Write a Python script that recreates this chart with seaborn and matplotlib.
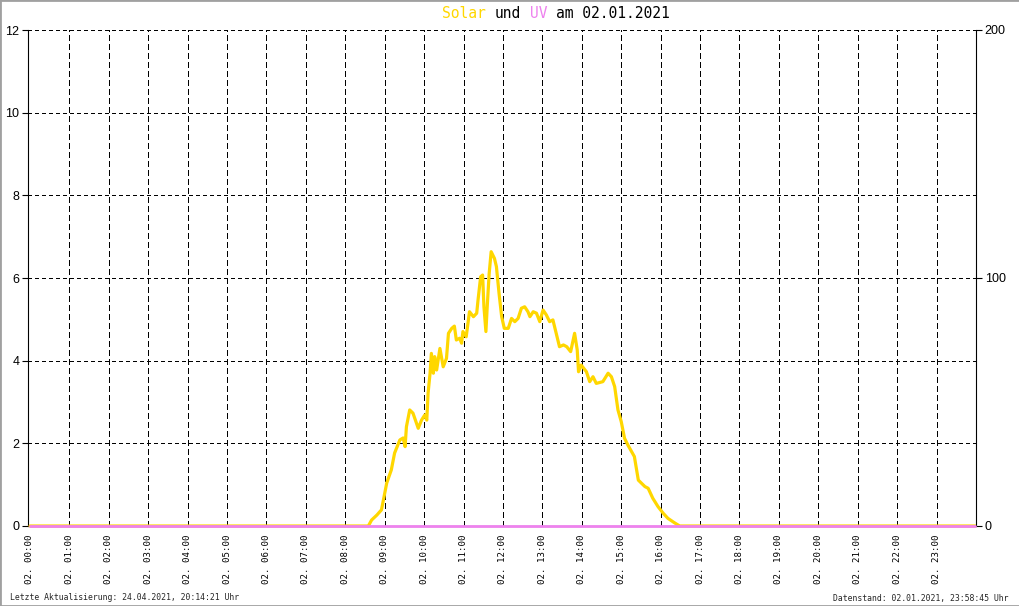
import matplotlib
matplotlib.use("Agg")
import matplotlib.pyplot as plt
from matplotlib.patches import Rectangle
import seaborn as sns
import pandas as pd

# Solar (W/m2) and UV index on 02.01.2021
solar_times = ["00:00", "08:35", "08:40", "08:48", "08:55", "08:58", "09:03", "09:10", "09:15",
               "09:23", "09:28", "09:31", "09:33", "09:38", "09:43", "09:51", "09:56", "10:01",
               "10:04", "10:06", "10:09", "10:11", "10:14", "10:16", "10:19", "10:24", "10:29",
               "10:34", "10:37", "10:42", "10:46", "10:49", "10:54", "10:57", "10:59", "11:04",
               "11:09", "11:15", "11:20", "11:22", "11:26", "11:29", "11:31", "11:34", "11:36",
               "11:39", "11:42", "11:47", "11:50", "11:54", "11:58", "12:02", "12:08", "12:13",
               "12:18", "12:23", "12:28", "12:33", "12:38", "12:41", "12:46", "12:51", "12:56",
               "13:01", "13:06", "13:11", "13:16", "13:21", "13:26", "13:32", "13:37", "13:43",
               "13:49", "13:53", "13:55", "13:59", "14:07", "14:12", "14:17", "14:22", "14:32",
               "14:40", "14:45", "14:50", "14:55", "15:00", "15:05", "15:10", "15:20", "15:26",
               "15:36", "15:41", "15:48", "15:56", "16:04", "16:11", "16:21", "16:29", "23:59"]
solar_values = [0, 0, 2.4, 4.4, 6.5, 10.5, 17.3, 22.6, 29.4,
                34.7, 35.5, 32.0, 40.0, 46.8, 45.5, 39.4, 42.7, 44.8,
                42.7, 53.6, 61.6, 69.6, 61.6, 68.3, 62.9, 71.6, 64.2,
                67.6, 77.7, 79.7, 80.6, 75.0, 75.7, 73.7, 78.4, 76.3,
                86.4, 84.4, 85.8, 91.1, 100.5, 101.2, 88.4, 78.4, 88.4,
                101.9, 110.6, 107.9, 104.6, 93.8, 84.4, 79.7, 79.7, 83.7,
                82.4, 83.7, 87.8, 88.4, 86.4, 84.4, 86.4, 85.8, 82.4,
                87.1, 85.1, 82.4, 83.1, 77.7, 72.3, 73.0, 72.3, 70.3,
                77.7, 71.0, 62.2, 64.9, 62.2, 58.2, 60.2, 57.5, 58.2,
                61.6, 60.2, 56.2, 46.8, 42.1, 35.4, 32.7, 28.0, 18.5,
                15.9, 15.2, 11.2, 7.8, 5.1, 3.1, 1.3, 0, 0]

uv_times = ["00:00", "23:59"]
uv_values = [0, 0]

hour_ticks = list(range(24))
hour_labels = ["02. %02d:00" % h for h in hour_ticks]
uv_ticks = [0, 2, 4, 6, 8, 10, 12]
solar_ticks = [0, 100, 200]

title_parts = [("Solar", "#FFD700"), (" und ", "black"), ("UV", "#EE82EE"), (" am 02.01.2021", "black")]
footer_left = "Letzte Aktualisierung: 24.04.2021, 20:14:21 Uhr"
footer_right = "Datenstand: 02.01.2021, 23:58:45 Uhr"


def to_hours(t):
    h, m = t.split(":")
    return int(h) + int(m) / 60.0


solar_df = pd.DataFrame({"hour": [to_hours(t) for t in solar_times], "solar": solar_values})
uv_df = pd.DataFrame({"hour": [to_hours(t) for t in uv_times], "uv": uv_values})

sns.set_style("white")
plt.rcParams["lines.scale_dashes"] = False
plt.rcParams["font.family"] = ["Liberation Sans", "DejaVu Sans"]

W, H = 1020, 606
fig = plt.figure(figsize=(W / 100, H / 100), dpi=100)
fig.patch.set_facecolor("white")
ax = fig.add_axes([28 / W, 80 / H, 948 / W, 496 / H])
x_min, x_max = -0.05, 24
ax.set_xlim(x_min, x_max)
ax.set_ylim(0, 12)

ax2 = ax.twinx()
ax2.set_ylim(0, 200)
ax3 = ax.twinx()
ax3.set_ylim(0, 12)
ax3.axis("off")

# grid: dashed verticals, dotted horizontals
ax.set_xticks(hour_ticks)
ax.set_xticklabels(hour_labels, rotation=90, fontfamily="DejaVu Sans Mono", fontsize=6.6)
ax.set_yticks(uv_ticks)
ax.grid(axis="x", color="black", linewidth=0.75, linestyle=(0, (3.6, 2.2)))
ax.grid(axis="y", color="black", linewidth=0.75, linestyle=(0, (2.2, 2.2)))
for gl in ax.get_xgridlines() + ax.get_ygridlines():
    gl.set_antialiased(False)
for gl in ax.get_ygridlines():
    gl.set_clip_on(False)
ax.get_xgridlines()[0].set_visible(False)

ax.tick_params(axis="x", direction="in", length=0, pad=6, colors="black")
ax.tick_params(axis="y", direction="out", length=4.3, width=0.8, pad=2, labelsize=9, colors="black")
ax2.set_yticks(solar_ticks)
ax2.tick_params(axis="y", direction="out", length=4.3, width=0.8, pad=2, labelsize=9, colors="black")

for a in (ax, ax2):
    for s in a.spines.values():
        s.set_color("black")
        s.set_linewidth(0.8)
    a.spines["top"].set_visible(False)
ax.spines["right"].set_visible(False)
ax2.spines["left"].set_visible(False)
ax2.spines["bottom"].set_visible(False)

sns.lineplot(data=solar_df, x="hour", y="solar", ax=ax2, color="#FFD700",
             linewidth=2.3, estimator=None)
sns.lineplot(data=uv_df, x="hour", y="uv", ax=ax3, color="#EE82EE",
             linewidth=2.0, estimator=None)
for a in (ax2, ax3):
    for ln in a.lines:
        ln.set_clip_on(False)
ax2.set_xlabel("")
ax2.set_ylabel("")
ax3.set_xlim(x_min, x_max)

# title with coloured words (monospace, so advance per character is fixed)
fs = 10.5
char_w = fs * 100 / 72 * 0.602
col = 0
for text, color in title_parts:
    lead = len(text) - len(text.lstrip())
    fig.text((442 + (col + lead) * char_w) / W, 1 - 13 / H, text.strip(), ha="left", va="center",
             fontfamily="DejaVu Sans Mono", fontsize=fs, color=color)
    col += len(text)

fig.text(10 / W, 1 - 598 / H, footer_left, ha="left", va="center",
         fontfamily="DejaVu Sans Mono", fontsize=5.9)
fig.text(1009 / W, 1 - 598 / H, footer_right, ha="right", va="center",
         fontfamily="DejaVu Sans Mono", fontsize=5.9)

fig.patches.append(Rectangle((0, 0), 1, 1, transform=fig.transFigure, fill=False,
                             edgecolor="#a0a0a0", linewidth=2))

fig.savefig("out.png", dpi=100)
